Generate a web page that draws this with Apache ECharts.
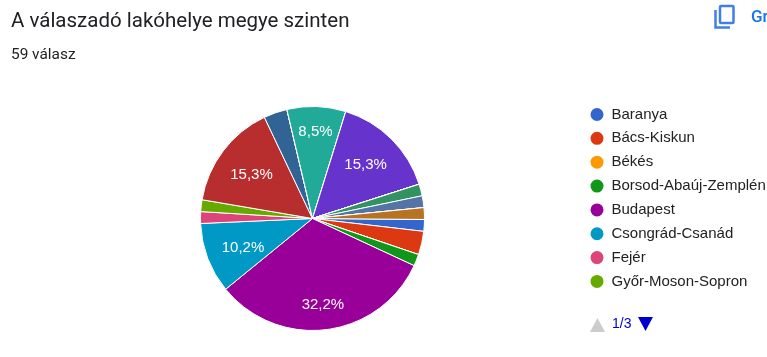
<!DOCTYPE html>
<html>
<head>
<meta charset="utf-8">
<title>A válaszadó lakóhelye megye szinten</title>
<script src="https://cdn.jsdelivr.net/npm/echarts@6/dist/echarts.min.js"></script>
<style>
    html, body { margin: 0; padding: 0; background: #fff; overflow: hidden; }
    #chart { width: 767px; height: 357px; }
</style>
</head>
<body>
<div id="chart"></div>
<script>
    // the picture only shows legend page 1, names from Hajdú-Bihar on are assumed
    const counties = ['Baranya', 'Bács-Kiskun', 'Békés', 'Borsod-Abaúj-Zemplén', 'Budapest', 'Csongrád-Csanád', 'Fejér', 'Győr-Moson-Sopron',
        'Hajdú-Bihar', 'Heves', 'Jász-Nagykun-Szolnok', 'Komárom-Esztergom', 'Nógrád', 'Pest', 'Somogy', 'Szabolcs-Szatmár-Bereg',
        'Tolna', 'Vas', 'Veszprém', 'Zala', 'Külföld'];
    const answers = [1, 2, 0, 1, 19, 6, 1, 1, 9, 2, 0, 5, 0, 9, 0, 0, 0, 1, 1, 0, 1];
    const colors = ['#3366cc', '#dc3912', '#ff9900', '#109618', '#990099', '#0099c6', '#dd4477', '#66aa00',
        '#b82e2e', '#316395', '#994499', '#22aa99', '#aaaa11', '#6633cc', '#e67300', '#8b0707',
        '#651067', '#329262', '#5574a6', '#3b3eac', '#b77322'];
    const legendPageSize = 8;

    const chart = echarts.init(document.getElementById('chart'), null, { renderer: 'canvas' });
    const total = answers.reduce((a, b) => a + b, 0);
    const slices = counties.map((name, i) => ({ name: name, value: answers[i] }));

    // small nudges so the labels sit where the reference has them
    const labelNudge = {
        'Budapest': [0, 3],
        'Csongrád-Csanád': [9, -1],
        'Hajdú-Bihar': [6, 7],
        'Komárom-Esztergom': [0, -3],
        'Pest': [-6, 6]
    };

    chart.setOption({
        animation: false,
        color: colors,
        title: [
            { text: 'A válaszadó lakóhelye megye szinten', left: 11, top: 11, padding: 0,
              textStyle: { fontFamily: 'Roboto', fontSize: 20.5, fontWeight: 400, color: '#202124' } },
            { text: '59 válasz', left: 11, top: 48, padding: 0,
              textStyle: { fontFamily: 'Roboto', fontSize: 15.4, fontWeight: 400, color: '#202124' } }
        ],
        legend: {
            orient: 'vertical',
            left: 583.5,
            top: 101,
            icon: 'circle',
            itemWidth: 19,
            itemHeight: 15,
            itemGap: 6.85,
            data: counties.slice(0, legendPageSize),
            textStyle: { fontFamily: 'Liberation Sans', fontSize: 15, color: '#222222' }
        },
        series: [
            {
                type: 'pie',
                center: [312.5, 218.5],
                radius: 112,
                startAngle: -0.5,
                label: { show: false },
                labelLine: { show: false },
                itemStyle: { borderColor: '#fff', borderWidth: 1 },
                data: slices
            },
            {
                // label carrier only, the ring pushes the labels outwards
                type: 'pie',
                silent: true,
                center: [312.5, 218.5],
                radius: [50, 112],
                startAngle: -0.5,
                itemStyle: { color: 'transparent' },
                labelLine: { show: false },
                label: {
                    position: 'inside',
                    fontFamily: 'Liberation Sans',
                    fontSize: 15,
                    color: '#fff',
                    formatter: function (p) {
                        const pct = p.value / total * 100;
                        return pct >= 5 ? pct.toFixed(1).replace('.', ',') + '%' : '';
                    }
                },
                labelLayout: function (p) {
                    const n = labelNudge[counties[p.dataIndex]] || [0, 0];
                    return { dx: n[0], dy: n[1] };
                },
                data: slices
            }
        ],
        graphic: [
            // copy icon and the button text cut off by the right edge
            { type: 'rect', shape: { x: 720, y: 6, width: 13.5, height: 17, r: 1 }, style: { fill: 'none', stroke: '#3f7fe6', lineWidth: 2.5 } },
            { type: 'polyline', shape: { points: [[715.5, 10], [715.5, 27.5], [730, 27.5]] }, style: { fill: 'none', stroke: '#3f7fe6', lineWidth: 2.5 } },
            { type: 'text', x: 751, y: 9, style: { text: 'Gr', fontFamily: 'Roboto', fontSize: 17, fontWeight: 500, fill: '#1a73e8' } },
            // legend pager
            { type: 'polygon', shape: { points: [[590, 332], [597.5, 318], [605, 332]] }, style: { fill: '#cccccc' } },
            { type: 'text', x: 612, y: 317, style: { text: '1/3', fontFamily: 'Liberation Sans', fontSize: 14, fill: '#0000cc' } },
            { type: 'polygon', shape: { points: [[638, 317], [653, 317], [645.5, 331]] }, style: { fill: '#0000cc' } }
        ]
    });

    window.addEventListener('resize', function () {
        chart.resize();
    });
</script>
</body>
</html>
